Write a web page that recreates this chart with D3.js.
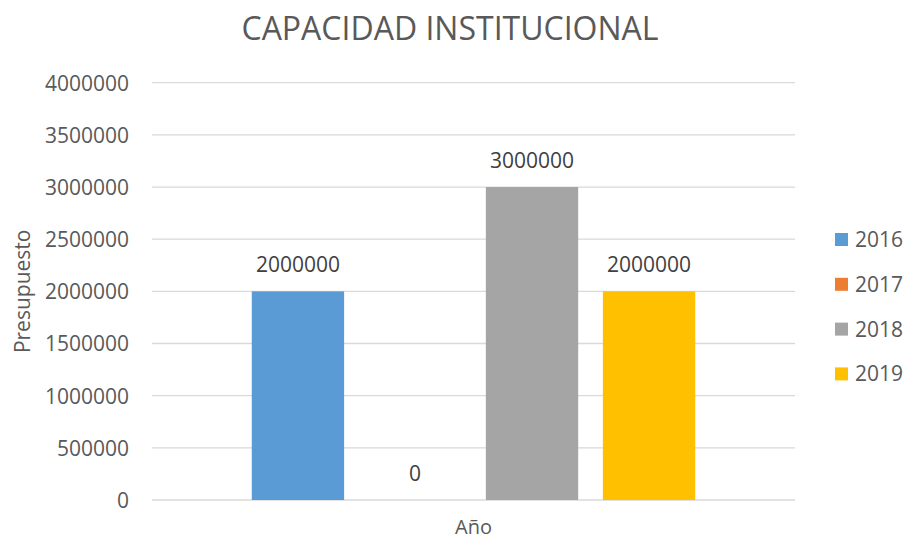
<!DOCTYPE html>
<html><head><meta charset="utf-8">
<script src="https://cdn.jsdelivr.net/npm/d3@7"></script>
<style>body{margin:0;background:#fff;} svg{display:block;}</style>
</head><body>
<svg id="chart" width="906" height="540"></svg>
<script>
const title = "CAPACIDAD INSTITUCIONAL";
const categories = ["Año"];
const series = ["2016", "2017", "2018", "2019"];
const values = [2000000, 0, 3000000, 2000000];
const colors = ["#5B9BD5", "#ED7D31", "#A5A5A5", "#FFC000"];
const yTicks = [0, 500000, 1000000, 1500000, 2000000, 2500000, 3000000, 3500000, 4000000];
const yTitle = "Presupuesto";

const svg = d3.select("#chart");
const font = "'Open Sans', sans-serif";
const txt = "#595959";
const m = {left: 152, right: 795, top: 82.7, bottom: 500};

const y = d3.scaleLinear().domain([0, 4000000]).range([m.bottom, m.top]);
const x0 = d3.scaleBand().domain(categories).range([m.left, m.right]).paddingInner(0).paddingOuter(0.225);
const x1 = d3.scaleBand().domain(series).range([0, x0.bandwidth()]).paddingInner(0.211).paddingOuter(0);

// gridlines
svg.append("g").selectAll("line").data(yTicks).join("line")
  .attr("x1", m.left).attr("x2", m.right)
  .attr("y1", d => y(d)).attr("y2", d => y(d))
  .attr("stroke", "#D9D9D9").attr("stroke-width", 1.3);

// y axis labels
const yAxis = d3.axisLeft(y).tickValues(yTicks).tickSize(0).tickPadding(0).tickFormat(d3.format("d"));
const ya = svg.append("g").attr("transform", `translate(${m.left - 23},0)`).call(yAxis);
ya.select(".domain").remove();
ya.selectAll("text").attr("font-family", font).attr("font-size", 21).attr("fill", txt).attr("dy", "0.35em");

// bars
const g = svg.append("g");
series.forEach((s, i) => {
  const bx = x0(categories[0]) + x1(s);
  g.append("rect")
    .attr("x", bx).attr("width", x1.bandwidth())
    .attr("y", y(values[i])).attr("height", y(0) - y(values[i]))
    .attr("fill", colors[i]);
  g.append("text")
    .attr("x", bx + x1.bandwidth() / 2)
    .attr("y", y(values[i]) - 19)
    .attr("text-anchor", "middle")
    .attr("font-family", font).attr("font-size", 21).attr("fill", "#404040")
    .text(d3.format("d")(values[i]));
});

// title
svg.append("text").attr("x", 450).attr("y", 40).attr("text-anchor", "middle")
  .attr("font-family", font).attr("font-size", 32).attr("fill", txt).text(title);

// axis titles
svg.append("text").attr("transform", `translate(30,${(m.top + m.bottom) / 2}) rotate(-90)`)
  .attr("text-anchor", "middle").attr("font-family", font).attr("font-size", 21).attr("fill", txt).text(yTitle);
svg.append("text").attr("x", (m.left + m.right) / 2).attr("y", 534).attr("text-anchor", "middle")
  .attr("font-family", font).attr("font-size", 20).attr("fill", txt).text(categories[0]);

// legend
const lg = svg.append("g");
series.forEach((s, i) => {
  const cy = 239.5 + i * 44.8;
  lg.append("rect").attr("x", 835).attr("y", cy - 6.5).attr("width", 13).attr("height", 13).attr("fill", colors[i]);
  lg.append("text").attr("x", 855).attr("y", cy).attr("dy", "0.36em")
    .attr("font-family", font).attr("font-size", 21).attr("fill", txt).text(s);
});
</script>
</body></html>
